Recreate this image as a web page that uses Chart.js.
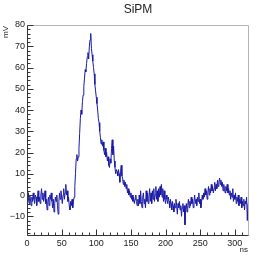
<!DOCTYPE html>
<html>
<head>
<meta charset="utf-8">
<script src="https://cdn.jsdelivr.net/npm/chart.js@4.4.0/dist/chart.umd.min.js"></script>
<style>
  html, body { margin: 0; padding: 0; background: #fff; }
  canvas { display: block; }
</style>
</head>
<body>
<canvas id="myChart" width="276" height="262"></canvas>
<script>
'use strict';

// sampled waveform, one sample per ns starting at 0 ns (values in mV)
var sampleStepNs = 1;
var baselineMv = [
    2, -3, 1, -4, 0, -2, -5, -1, -3, 1, -2, -4, 0, -1, -5, -2, 2, -3, -1, -4,
    0, 3, -2, 1, -3, -1, 2, -4, -2, -7, -3, -1, -5, 0, -2, 1, -3, -6, -2, -8,
    -4, -1, -3, 0, -5, -9, -3, 1, -2, 2, -1, -4, 0, 3, -2, 1, 5, 0, 2, -3,
    -1, -5, -7, -3, -5, -2, -6, -3
];
var pulseMv = [
    -1, 4, 10, 17, 19, 16, 18, 22, 29, 36, 40, 38, 44, 47, 51, 55, 59, 58, 62, 65,
    67, 64, 70, 73, 76, 69, 66, 63, 60, 57, 52, 49, 46, 43, 40, 36, 34, 30, 27, 24,
    26, 23, 25, 21, 19, 22, 18, 20, 16, 18, 14, 13, 17, 15, 22, 26, 19, 23, 16, 13,
    10, 12, 11, 9, 12, 10, 6, 11, 14, 9, 8, 5, 7, 4, 6, 3, 5, 1, 3, 0,
    2, -1, 1, -2, 0, -3, -1, -4, -2, 0, -3, -5, -2
];
var tailMv = [
    -5, 0, -4, 2, -3, -6, -1, 1, -4, -2, -6, 2, -3, 1, -4,
    -1, 3, -3, 1, -4, 2, -2, 3, -3, 0, 4, -2, 2, -3, 3, -1, 4, 0, 5, -1, 3, -3, 2, -2, -4,
    0, -2, -4, -1, -3, -6, -2, -4, -7, -3, -5, -8, -4, -6, -2, -5, -9, -4, -6, -3,
    -7, -5, -10, -6, -4, -8, -5, -14, -7, -4,
    -8, -5, -2, -6, -3, -5, -1, -4, -2, -6, -3, 0, -4, -2, -5, -1, -3, 1, -4, -2,
    -6, -3, 0, -2, 1,
    -1, 3, 0, 2, -2, 1, 4, 0, 3, 1, 5, 2, 4, 1, 3, 6, 2, 5, 3, 7,
    4, 6, 8, 5, 7, 4, 6, 2, 5, 3, 1, 4, 2, 5, 1,
    3, 0, 2, -2, 1, -1, 3, -3, 0, -2, 1, -4, -1, -3, 0, -5, -2, -4, -1, -6,
    -3, -5, -2, -7, -3, -4, -1, -12, -4, -3
];

var xTicks = [0, 50, 100, 150, 200, 250, 300];
var yTicks = [-10, 0, 10, 20, 30, 40, 50, 60, 70, 80];
var xRange = [0, 319];
var yRange = [-18.8, 80];

var titleText = 'SiPM';
var xTitle = 'ns';
var yTitle = 'mV';

var allMv = baselineMv.concat(pulseMv, tailMv);
var points = [];
for (var i = 0; i < allMv.length; i++) {
    points.push({ x: i * sampleStepNs, y: allMv[i] });
}

function minusSign(value) {
    return String(value).replace('-', '\u2212');
}

// ROOT style frame: ticks pointing inward, grey top/right edges, titles
var rootFrame = {
    id: 'rootFrame',
    afterDraw: function (chart) {
        var ctx = chart.ctx;
        var area = chart.chartArea;
        var xs = chart.scales.x;
        var ys = chart.scales.y;
        var l = Math.round(area.left) + 0.5;
        var r = Math.round(area.right) + 0.5;
        var t = Math.round(area.top) + 0.5;
        var b = Math.round(area.bottom) + 0.5;

        ctx.save();
        ctx.lineWidth = 1;

        ctx.strokeStyle = '#b4b4b4';
        ctx.beginPath();
        ctx.moveTo(l, t);
        ctx.lineTo(r, t);
        ctx.lineTo(r, b);
        ctx.stroke();

        ctx.strokeStyle = '#333';
        ctx.beginPath();
        ctx.moveTo(l, t);
        ctx.lineTo(l, b);
        ctx.lineTo(r, b);
        ctx.stroke();

        // y ticks every 2 mV, long ones every 10
        ctx.beginPath();
        for (var v = -18; v <= 80; v += 2) {
            var py = Math.round(ys.getPixelForValue(v)) + 0.5;
            var len = (v % 10 === 0) ? 6 : 3;
            ctx.moveTo(l, py);
            ctx.lineTo(l + len, py);
        }
        // x ticks every 10 ns, long ones every 50
        for (var n = 0; n <= 310; n += 10) {
            var px = Math.round(xs.getPixelForValue(n)) + 0.5;
            var lenX = (n % 50 === 0) ? 6 : 3;
            ctx.moveTo(px, b);
            ctx.lineTo(px, b - lenX);
        }
        ctx.stroke();

        ctx.fillStyle = '#222';
        ctx.font = '12px "Liberation Sans", Arial, sans-serif';
        ctx.textAlign = 'center';
        ctx.textBaseline = 'middle';
        ctx.fillText(titleText, 138, 10);

        ctx.font = '8px "Liberation Sans", Arial, sans-serif';
        ctx.textAlign = 'right';
        ctx.textBaseline = 'alphabetic';
        ctx.fillText(xTitle, 248, 252);

        ctx.translate(8, 26);
        ctx.rotate(-Math.PI / 2);
        ctx.textAlign = 'right';
        ctx.fillText(yTitle, 0, 0);
        ctx.restore();
    }
};

var ctx = document.getElementById('myChart').getContext('2d');
var chart = new Chart(ctx, {
    type: 'line',
    data: {
        datasets: [{
            data: points,
            borderColor: 'rgb(25, 25, 165)',
            borderWidth: 1,
            pointRadius: 0,
            tension: 0,
            fill: false
        }]
    },
    options: {
        responsive: false,
        animation: false,
        devicePixelRatio: 1,
        layout: { padding: { top: 25, right: 28, left: 0, bottom: 0 } },
        plugins: {
            legend: { display: false },
            tooltip: { enabled: false },
            title: { display: false }
        },
        scales: {
            x: {
                type: 'linear',
                min: xRange[0],
                max: xRange[1],
                afterBuildTicks: function (scale) {
                    scale.ticks = xTicks.map(function (v) { return { value: v }; });
                },
                afterFit: function (scale) { scale.height = 27; },
                grid: { display: false, drawTicks: false },
                border: { display: false },
                ticks: {
                    autoSkip: false,
                    maxRotation: 0,
                    padding: 3,
                    color: '#222',
                    font: { family: '"Liberation Sans", Arial, sans-serif', size: 9 }
                }
            },
            y: {
                type: 'linear',
                min: yRange[0],
                max: yRange[1],
                afterBuildTicks: function (scale) {
                    scale.ticks = yTicks.map(function (v) { return { value: v }; });
                },
                afterFit: function (scale) { scale.width = 27; },
                grid: { display: false, drawTicks: false },
                border: { display: false },
                ticks: {
                    autoSkip: false,
                    padding: 2,
                    color: '#222',
                    font: { family: '"Liberation Sans", Arial, sans-serif', size: 9 },
                    callback: function (value) { return minusSign(value); }
                }
            }
        }
    },
    plugins: [rootFrame]
});
</script>
</body>
</html>
